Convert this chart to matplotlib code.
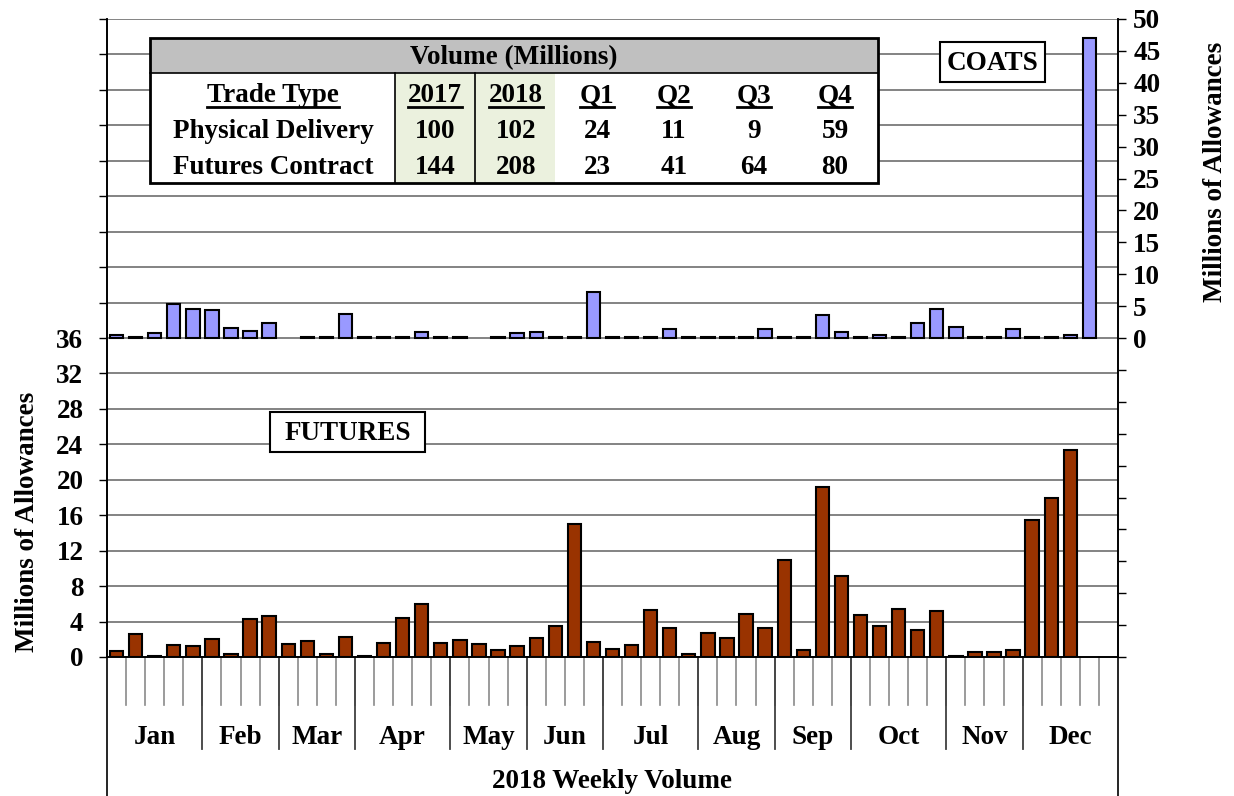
import numpy as np
import matplotlib.pyplot as plt
from matplotlib.patches import Rectangle

plt.rcParams['font.family'] = ['Liberation Serif', 'DejaVu Serif']
plt.rcParams['font.weight'] = 'bold'

# weekly volumes, millions of allowances (53 weeks of 2018)
futures = [0.7, 2.6, 0.15, 1.4, 1.2, 2.0, 0.35, 4.3, 4.6, 1.5,
           1.8, 0.35, 2.3, 0.15, 1.6, 4.4, 6.0, 1.6, 1.9, 1.5,
           0.75, 1.2, 2.2, 3.55, 15.0, 1.7, 0.95, 1.4, 5.25, 3.25,
           0.35, 2.75, 2.1, 4.8, 3.25, 11.0, 0.75, 19.2, 9.1, 4.7,
           3.5, 5.45, 3.05, 5.15, 0.15, 0.57, 0.57, 0.8, 15.45, 17.9,
           23.4, 0, 0]
coats = [0.4, 0.15, 0.75, 5.4, 4.5, 4.35, 1.55, 1.05, 2.35, 0,
         0.15, 0.15, 3.75, 0.1, 0.15, 0.1, 0.95, 0.1, 0.15, 0,
         0.15, 0.75, 0.95, 0.1, 0.15, 7.15, 0.1, 0.15, 0.15, 1.45,
         0.15, 0.15, 0.15, 0.1, 1.45, 0.1, 0.1, 3.65, 1.0, 0.15,
         0.45, 0.1, 2.35, 4.6, 1.65, 0.1, 0.15, 1.45, 0.15, 0.1,
         0.45, 47.0, 0]
months = ['Jan', 'Feb', 'Mar', 'Apr', 'May', 'Jun',
          'Jul', 'Aug', 'Sep', 'Oct', 'Nov', 'Dec']
weeks_in_month = [5, 4, 4, 5, 4, 4, 5, 4, 4, 5, 4, 5]

# summary table
table_title = 'Volume (Millions)'
col_heads = ['Trade Type', '2017', '2018', 'Q1', 'Q2', 'Q3', 'Q4']
row_names = ['Physical Delivery', 'Futures Contract']
physical = [100, 102, 24, 11, 9, 59]
futures_contract = [144, 208, 23, 41, 64, 80]

FS = 19.5
W, H = 1234, 796
fig = plt.figure(figsize=(W / 100, H / 100), dpi=100)
fig.patch.set_facecolor('white')

def fx(p):
    return p / W

def fy(p):
    return 1 - p / H

L, R, T, B = 107, 1118, 19, 657
ax = fig.add_axes([fx(L), fy(B), fx(R - L), (B - T) / H])
ax2 = ax.twinx()

x = np.arange(len(futures))
fut = np.array(futures)
coa = np.array(coats)
ax.bar(x[fut > 0], fut[fut > 0], width=0.7, color='#993300',
       edgecolor='black', lw=1.5, zorder=3)
ax2.bar(x[coa > 0], coa[coa > 0], width=0.7, color='#9999FF',
        edgecolor='black', lw=1.5, zorder=3)

ax.set_xlim(-0.5, len(futures) - 0.5)
ax.set_ylim(0, 72)
ax.set_yticks(np.arange(0, 73, 4))
ax.set_yticklabels([str(v) if v <= 36 else '' for v in range(0, 73, 4)])
ax2.set_ylim(-50, 50)
ax2.set_yticks(np.arange(-50, 51, 5))
ax2.set_yticklabels([str(v) if v >= 0 else '' for v in range(-50, 51, 5)])
ax.set_xticks([])

for v in range(4, 73, 4):
    ax.axhline(v, color='#7a7a7a', lw=1.3, zorder=1)

ax.tick_params(axis='y', direction='out', length=6, width=1, labelsize=FS, pad=11)
ax2.tick_params(axis='y', direction='out', length=6, width=1, labelsize=FS, pad=5)
for t in ax.get_yticklabels() + ax2.get_yticklabels():
    t.set_fontweight('bold')
for a in (ax, ax2):
    a.spines['top'].set_visible(False)
    a.spines['left'].set_linewidth(1.2)
    a.spines['right'].set_linewidth(1.2)
    a.spines['bottom'].set_linewidth(1.2)
ax.patch.set_visible(False)

# category area under the plot
axh = (B - T)
week_y = -(705 - B) / axh
month_y = -(749 - B) / axh
end_y = -(796 - B) / axh
tr = ax.get_xaxis_transform()
for k in range(1, len(futures)):
    ax.plot([k - 0.5, k - 0.5], [0, week_y], color='#8a8a8a', lw=1.2,
            transform=tr, clip_on=False)
start = 0
for m, n in zip(months, weeks_in_month):
    ax.text(start + n / 2 - 0.5, -(737 - B) / axh, m, transform=tr,
            ha='center', va='center', fontsize=FS, fontweight='bold')
    start += n
    if start < len(futures):
        ax.plot([start - 0.5, start - 0.5], [0, month_y], color='#404040',
                lw=1.3, transform=tr, clip_on=False)
for xa in (0, 1):
    ax.plot([xa, xa], [0, end_y], color='black', lw=1.2,
            transform=ax.transAxes, clip_on=False)

fig.text(fx(612), fy(781), '2018 Weekly Volume', ha='center', va='center',
         fontsize=FS, fontweight='bold')
fig.text(fx(27), fy(522), 'Millions of Allowances', rotation=90,
         ha='center', va='center', fontsize=FS, fontweight='bold')
fig.text(fx(1215), fy(172), 'Millions of Allowances', rotation=90,
         ha='center', va='center', fontsize=FS, fontweight='bold')

# overlay in pixel coordinates for the boxes and the table
ov = fig.add_axes([0, 0, 1, 1], zorder=10)
ov.set_xlim(0, W)
ov.set_ylim(H, 0)
ov.axis('off')
ov.patch.set_alpha(0)

def box(x0, y0, x1, y1, label):
    ov.add_patch(Rectangle((x0, y0), x1 - x0, y1 - y0, facecolor='white',
                           edgecolor='black', lw=1.5))
    ov.text((x0 + x1) / 2, (y0 + y1) / 2 + 2, label, ha='center', va='center',
            fontsize=FS, fontweight='bold')

box(940, 42, 1045, 82, 'COATS')
box(270, 412, 425, 452, 'FUTURES')

tx0, tx1, ty0, ty1, hy = 150, 878, 38, 183, 73
ov.add_patch(Rectangle((tx0, ty0), tx1 - tx0, ty1 - ty0, facecolor='white',
                       edgecolor='none'))
ov.add_patch(Rectangle((tx0, ty0), tx1 - tx0, hy - ty0, facecolor='#C0C0C0',
                       edgecolor='none'))
ov.add_patch(Rectangle((395, hy), 555 - 395, ty1 - hy, facecolor='#EBF1DE',
                       edgecolor='none'))
ov.plot([tx0, tx1], [hy, hy], color='black', lw=1.2)
ov.plot([395, 395], [hy, ty1], color='black', lw=1.2)
ov.plot([475, 475], [hy, ty1], color='black', lw=1.2)
ov.add_patch(Rectangle((tx0, ty0), tx1 - tx0, ty1 - ty0, facecolor='none',
                       edgecolor='black', lw=2))
ov.text((tx0 + tx1) / 2, 58, table_title, ha='center', va='center',
        fontsize=FS, fontweight='bold')

col_x = [273, 435, 516, 597, 674, 754, 835]
row_y = [96, 131, 167]
heads = []
for cx, h in zip(col_x, col_heads):
    heads.append(ov.text(cx, row_y[0], h, ha='center', va='center',
                         fontsize=FS, fontweight='bold'))
for ry, name, vals in zip(row_y[1:], row_names, [physical, futures_contract]):
    ov.text(col_x[0], ry, name, ha='center', va='center', fontsize=FS,
            fontweight='bold')
    for cx, v in zip(col_x[1:], vals):
        ov.text(cx, ry, str(v), ha='center', va='center', fontsize=FS,
                fontweight='bold')

# underline the header row
fig.canvas.draw()
inv = ov.transData.inverted()
for t in heads:
    bb = t.get_window_extent()
    (a0, _), (a1, _) = inv.transform([(bb.x0, bb.y0), (bb.x1, bb.y0)])
    ov.plot([a0, a1], [row_y[0] + 11, row_y[0] + 11], color='black', lw=2)

fig.savefig('out.png', dpi=100)
